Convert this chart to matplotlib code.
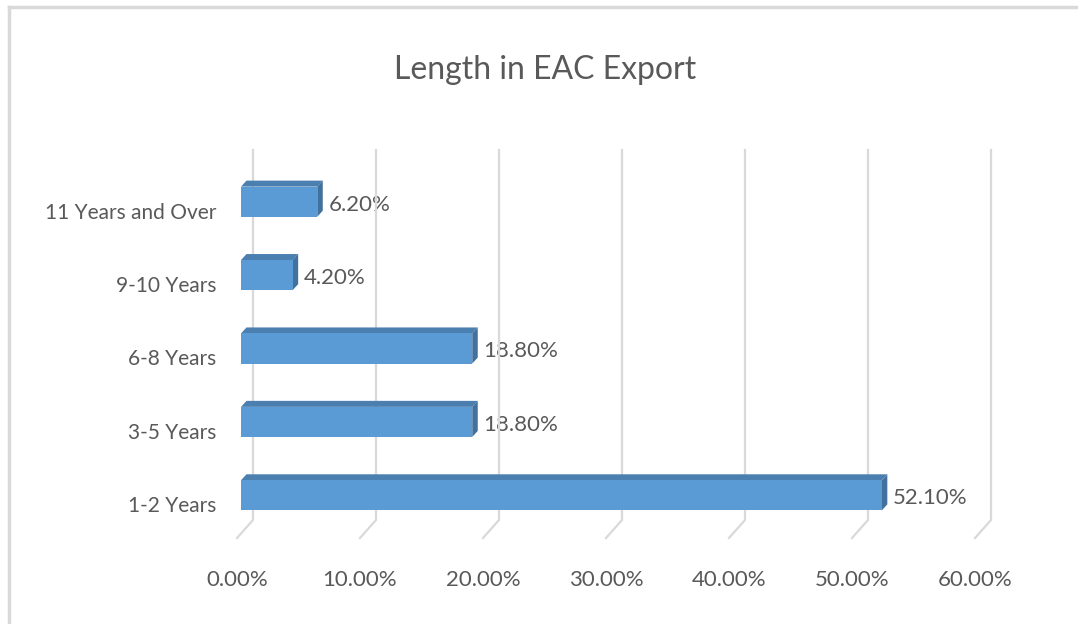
import matplotlib
matplotlib.use('Agg')
import matplotlib.pyplot as plt
from matplotlib.patches import Polygon
from matplotlib import font_manager
from matplotlib.transforms import ScaledTranslation

# data
categories = ['1-2 Years', '3-5 Years', '6-8 Years', '9-10 Years', '11 Years and Over']
values = [52.1, 18.8, 18.8, 4.2, 6.2]
xticks = [0, 10, 20, 30, 40, 50, 60]
title = 'Length in EAC Export'

names = {f.name for f in font_manager.fontManager.ttflist}
font = 'Lato' if 'Lato' in names else 'DejaVu Sans'
plt.rcParams['font.family'] = [font, 'DejaVu Sans']

text_c = '#595959'
grid_c = '#d9d9d9'
face_c = '#5b9bd5'
dark_c = '#41719c'
top_c = '#4a7fb0'

W, H = 1078, 624
fig = plt.figure(figsize=(W / 100, H / 100), dpi=100)
fig.patch.set_facecolor('white')

# chart border (left and top only visible)
fig.add_artist(plt.Line2D([9 / W, 9 / W], [0, 1 - 7 / H], color='#d9d9d9', lw=2.5))
fig.add_artist(plt.Line2D([9 / W, 1], [1 - 7 / H, 1 - 7 / H], color='#d9d9d9', lw=2.5))

ax = fig.add_axes([241 / W, (H - 533.5) / H, 738 / W, 370 / H])
ax.set_xlim(0, 60)
ax.set_ylim(-0.52, 4.52)
for s in ax.spines.values():
    s.set_visible(False)
ax.patch.set_visible(False)

fig.canvas.draw()
td = ax.transData

# pixel offsets (display coords, y up)
floor_off = (-4, -4.5)
back_off = (12, 13.5)
bar_d = (5.5, 6)

# gridlines: slant from front floor to back wall, then up the back wall
for t in xticks:
    x0, y0 = td.transform((t, -0.52))
    x1, y1 = td.transform((t, 4.52))
    pts = [(x0 + floor_off[0], y0 + floor_off[1]),
           (x0 + back_off[0], y0 + back_off[1]),
           (x1 + back_off[0], y1 + back_off[1])]
    xs, ys = zip(*pts)
    fig.add_artist(plt.Line2D(xs, ys, transform=None, color=grid_c, lw=1.6, zorder=1))

bh = 0.41
for i, v in enumerate(values):
    (xa, ya) = td.transform((0, i - bh / 2))
    (xb, yb) = td.transform((v, i + bh / 2))
    dx, dy = bar_d
    front = [(xa, ya), (xb, ya), (xb, yb), (xa, yb)]
    top = [(xa, yb), (xb, yb), (xb + dx, yb + dy), (xa + dx, yb + dy)]
    side = [(xb, ya), (xb + dx, ya + dy), (xb + dx, yb + dy), (xb, yb)]
    for poly, c in [(top, top_c), (side, dark_c), (front, face_c)]:
        fig.add_artist(Polygon(poly, closed=True, transform=None, facecolor=c,
                               edgecolor='none', zorder=3))
    ax.text(v, i, f'{v:.2f}%', transform=td + ScaledTranslation(11 / 100, -3 / 100, fig.dpi_scale_trans),
            ha='left', va='center', fontsize=16, color=text_c, zorder=4)

ax.set_yticks(range(len(categories)))
ax.set_yticklabels(categories, fontsize=15, color=text_c)
ax.tick_params(axis='y', length=0, pad=25 * 72 / 100)
for lab in ax.get_yticklabels():
    lab.set_transform(lab.get_transform() + ScaledTranslation(0, -9 / 100, fig.dpi_scale_trans))

ax.set_xticks(xticks)
ax.set_xticklabels([f'{t:.2f}%' for t in xticks], fontsize=16, color=text_c)
ax.tick_params(axis='x', length=0, pad=36 * 72 / 100)
for lab in ax.get_xticklabels():
    lab.set_transform(lab.get_transform() + ScaledTranslation(-4 / 100, 0, fig.dpi_scale_trans))

fig.text(545 / W, 1 - 70 / H, title, ha='center', va='center', fontsize=23, color=text_c)

fig.savefig('out.png', dpi=100, facecolor='white')
